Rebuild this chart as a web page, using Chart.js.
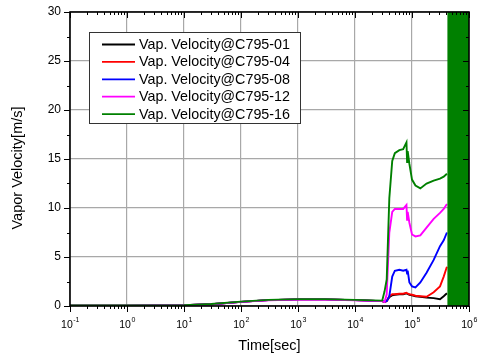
<!DOCTYPE html>
<html>
<head>
<meta charset="utf-8">
<script src="https://cdn.jsdelivr.net/npm/chart.js@4.4.1/dist/chart.umd.min.js"></script>
<style>
  html, body { margin: 0; padding: 0; background: #fff; }
  #chart { display: block; }
</style>
</head>
<body>
<canvas id="chart" width="479" height="357"></canvas>
<script>
// time axis (sec), shared by all series
const times = [0.1, 1, 10, 30, 100, 300, 1000, 3000, 10000, 30000,
  33000, 36000, 40000, 45000, 50000, 60000, 70000, 80000, 82000, 84000,
  90000, 100000, 115000, 140000, 180000, 240000, 310000, 360000, 410000];

const vel01 = [0.04, 0.04, 0.07, 0.18, 0.42, 0.6, 0.68, 0.68, 0.6, 0.5,
  0.4, 0.5, 0.9, 1.1, 1.15, 1.2, 1.2, 1.3, 1.25, 1.25,
  1.15, 1.1, 1.0, 0.95, 0.85, 0.8, 0.7, 1.0, 1.3];
const vel04 = [0.04, 0.04, 0.07, 0.18, 0.42, 0.6, 0.68, 0.68, 0.6, 0.5,
  0.4, 0.5, 1.0, 1.2, 1.2, 1.25, 1.25, 1.35, 1.3, 1.3,
  1.2, 1.15, 1.05, 1.0, 0.95, 1.4, 2.0, 3.0, 4.0];
const vel08 = [0.04, 0.04, 0.07, 0.18, 0.42, 0.6, 0.68, 0.68, 0.6, 0.5,
  0.45, 0.5, 1.0, 3.0, 3.6, 3.7, 3.6, 3.7, 3.3, 3.6,
  2.4, 2.0, 1.9, 2.4, 3.4, 4.7, 6.1, 6.7, 7.5];
const vel12 = [0.04, 0.04, 0.07, 0.18, 0.42, 0.58, 0.66, 0.66, 0.58, 0.5,
  0.4, 1.2, 7.5, 9.6, 9.9, 9.9, 9.9, 10.3, 8.8, 9.6,
  8.5, 7.3, 7.1, 7.2, 8.0, 8.9, 9.5, 9.9, 10.4];
const vel16 = [0.05, 0.05, 0.08, 0.2, 0.45, 0.62, 0.7, 0.7, 0.62, 0.55,
  1.5, 2.7, 11.0, 14.8, 15.6, 15.9, 16.0, 16.7, 14.7, 15.8,
  14.5, 12.9, 12.3, 12.0, 12.5, 12.8, 13.0, 13.2, 13.5];

// C795-16 oscillates between 0 and the top of the axis from here on
const oscTimes = [415000, 1000000];
const oscTop = [30, 30];

const seriesLabels = ['Vap. Velocity@C795-01', 'Vap. Velocity@C795-04', 'Vap. Velocity@C795-08',
  'Vap. Velocity@C795-12', 'Vap. Velocity@C795-16'];
const seriesColors = ['#000000', '#ff0000', '#0000ff', '#ff00ff', '#008000'];
const seriesValues = [vel01, vel04, vel08, vel12, vel16];

const xMajorExp = [-1, 0, 1, 2, 3, 4, 5, 6];
const yTicks = [0, 5, 10, 15, 20, 25, 30];

const FONT = '"Liberation Sans", Arial, sans-serif';

const toPoints = (xs, ys) => xs.map((t, i) => ({ x: t, y: ys[i] }));

const datasets = seriesValues.map((vals, i) => ({
    label: seriesLabels[i],
    data: toPoints(times, vals),
    borderColor: seriesColors[i],
    backgroundColor: seriesColors[i],
    borderWidth: 1.9,
    pointRadius: 0,
    tension: 0,
    fill: false,
    order: 5 - i
}));
datasets.push({
    label: 'osc',
    data: toPoints(oscTimes, oscTop),
    borderColor: '#008000',
    backgroundColor: '#008000',
    borderWidth: 0,
    pointRadius: 0,
    fill: 'origin',
    order: 0
});

// frame, tick marks, tick labels, axis titles and the boxed legend
const framePlugin = {
    id: 'framePlugin',
    afterDraw(chart) {
        const { ctx, chartArea: a, scales: { x, y } } = chart;
        ctx.save();
        ctx.strokeStyle = '#000';
        ctx.lineWidth = 1;

        const tick = (x1, y1, x2, y2) => {
            ctx.beginPath();
            ctx.moveTo(x1, y1);
            ctx.lineTo(x2, y2);
            ctx.stroke();
        };

        // x ticks: bottom outward, top inward
        xMajorExp.forEach(e => {
            const px = Math.round(x.getPixelForValue(Math.pow(10, e))) + 0.5;
            tick(px, a.bottom, px, a.bottom + 6);
            tick(px, a.top, px, a.top + 6);
            if (e < 6) {
                for (let m = 2; m <= 9; m++) {
                    const mx = Math.round(x.getPixelForValue(m * Math.pow(10, e))) + 0.5;
                    tick(mx, a.bottom, mx, a.bottom + 3);
                    tick(mx, a.top, mx, a.top + 3);
                }
            }
        });

        // y ticks: left outward, right inward
        for (let v = 0; v <= 30; v += 2.5) {
            const py = Math.round(y.getPixelForValue(v)) + 0.5;
            const len = v % 5 === 0 ? 6 : 3;
            tick(a.left - len, py, a.left, py);
            tick(a.right - len, py, a.right, py);
        }

        // frame
        ctx.lineWidth = 1.6;
        ctx.strokeRect(a.left, a.top, a.right - a.left, a.bottom - a.top);

        ctx.fillStyle = '#000';
        // y labels
        ctx.font = '12px ' + FONT;
        ctx.textAlign = 'right';
        ctx.textBaseline = 'middle';
        yTicks.forEach(v => ctx.fillText(String(v), a.left - 9, y.getPixelForValue(v)));

        // x labels, 10 with superscript exponent
        ctx.textAlign = 'left';
        ctx.textBaseline = 'alphabetic';
        xMajorExp.forEach(e => {
            const px = x.getPixelForValue(Math.pow(10, e));
            ctx.font = '10.5px ' + FONT;
            const bw = ctx.measureText('10').width;
            ctx.font = '7px ' + FONT;
            const ew = ctx.measureText(String(e)).width;
            const start = px - (bw + ew) / 2;
            ctx.font = '10.5px ' + FONT;
            ctx.fillText('10', start, 328);
            ctx.font = '7px ' + FONT;
            ctx.fillText(String(e), start + bw + 0.5, 322);
        });

        // axis titles
        ctx.font = '14.5px ' + FONT;
        ctx.textAlign = 'center';
        ctx.textBaseline = 'middle';
        ctx.fillText('Time[sec]', (a.left + a.right) / 2, 346);
        ctx.save();
        ctx.translate(18, 168);
        ctx.rotate(-Math.PI / 2);
        ctx.fillText('Vapor Velocity[m/s]', 0, 0);
        ctx.restore();

        // legend box
        const lx = 89, ly = 32, lw = 211, lh = 91;
        ctx.fillStyle = '#fff';
        ctx.fillRect(lx, ly, lw, lh);
        ctx.lineWidth = 1;
        ctx.strokeStyle = '#333';
        ctx.strokeRect(lx + 0.5, ly + 0.5, lw, lh);
        ctx.font = '14.3px ' + FONT;
        ctx.textAlign = 'left';
        ctx.textBaseline = 'middle';
        seriesLabels.forEach((label, i) => {
            const ry = 44.5 + i * 17.4;
            ctx.strokeStyle = seriesColors[i];
            ctx.lineWidth = 1.8;
            tick(102, ry, 135, ry);
            ctx.fillStyle = '#000';
            ctx.fillText(label, 139, ry + 0.5);
        });

        ctx.restore();
    }
};

new Chart(document.getElementById('chart'), {
    type: 'line',
    data: { datasets },
    options: {
        responsive: false,
        animation: false,
        layout: { padding: { left: 70, top: 12, right: 10, bottom: 51 } },
        plugins: {
            legend: { display: false },
            tooltip: { enabled: false }
        },
        scales: {
            x: {
                type: 'logarithmic',
                min: 0.1,
                max: 1000000,
                afterBuildTicks: (scale) => {
                    scale.ticks = xMajorExp.map(e => ({ value: Math.pow(10, e) }));
                },
                ticks: { display: false },
                border: { display: false },
                grid: { color: '#a8a8a8', lineWidth: 1.2, drawTicks: false }
            },
            y: {
                type: 'linear',
                min: 0,
                max: 30,
                afterBuildTicks: (scale) => {
                    scale.ticks = yTicks.map(v => ({ value: v }));
                },
                ticks: { display: false },
                border: { display: false },
                grid: { color: '#a8a8a8', lineWidth: 1.2, drawTicks: false }
            }
        }
    },
    plugins: [framePlugin]
});
</script>
</body>
</html>
